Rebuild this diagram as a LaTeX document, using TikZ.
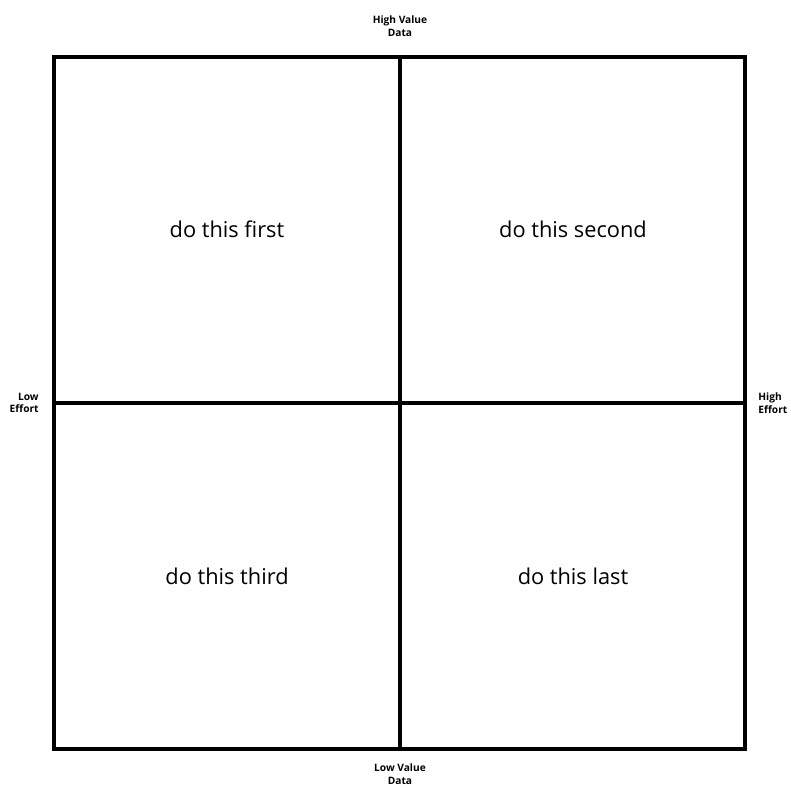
\documentclass[tikz,border=0pt]{standalone}
\usepackage{fontspec}
\setmainfont{Open Sans}
\begin{document}
\begin{tikzpicture}[x=0.02cm, y=-0.02cm,
    grid/.style={line width=2pt},
    quadtext/.style={font=\fontsize{12.4}{15}\selectfont},
    axislabel/.style={font=\fontsize{5.8}{7.2}\selectfont\bfseries}]
    % Page
    \clip (0,0) rectangle (791,788);
    \fill[white] (0,0) rectangle (791,788);

    % Matrix frame
    \draw[grid] (54,57) rectangle (745,749);
    \draw[grid] (400,57) -- (400,749);
    \draw[grid] (54,403) -- (745,403);

    % Quadrants
    \node[quadtext] (first) at (227,229) {do this first};
    \node[quadtext] (second) at (573,229) {do this second};
    \node[quadtext] (third) at (227,576) {do this third};
    \node[quadtext] (last) at (573,576) {do this last};

    % Axis labels
    \node[axislabel, align=center] (highvalue) at (400,26) {High Value\\Data};
    \node[axislabel, align=center] (lowvalue) at (400,774) {Low Value\\Data};
    \node[axislabel, align=right, anchor=east, inner sep=0pt] (loweffort) at (39,403) {Low\\Effort};
    \node[axislabel, align=left, anchor=west, inner sep=0pt] (higheffort) at (758,403) {High\\Effort};
\end{tikzpicture}
\end{document}
